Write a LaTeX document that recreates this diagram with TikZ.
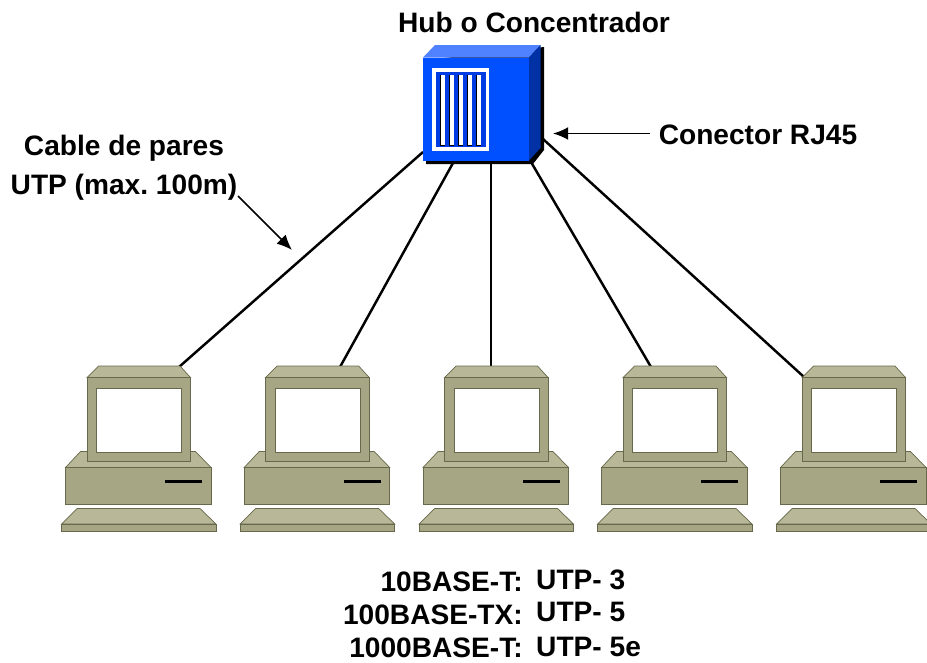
\documentclass[tikz,border=0pt]{standalone}
\usepackage{fontspec}
\setmainfont{Liberation Sans}
\usepackage{xcolor}
\usetikzlibrary{arrows.meta}
\definecolor{HubBlue}{RGB}{0, 80, 255}
\definecolor{HubTop}{RGB}{80, 130, 255}
\definecolor{HubSide}{RGB}{0, 50, 165}
\definecolor{HubDark}{RGB}{0, 60, 225}
\definecolor{PcFront}{RGB}{166, 166, 132}
\definecolor{PcTop}{RGB}{184, 184, 152}
\definecolor{PcEdge}{RGB}{104, 104, 76}
\tikzset{
    label/.style = {inner sep = 0pt, font = \fontsize{24}{28}\selectfont\bfseries\frenchspacing},
    pcface/.style = {fill = PcFront, draw = PcEdge, line width = 0.6pt},
    pctop/.style = {fill = PcTop, draw = PcEdge, line width = 0.6pt},
    cable/.style = {line width = 2.1pt},
    pointer/.style = {line width = 1.4pt, -{Latex[length = 13pt, width = 11pt]}}
}

\begin{document}
\begin{tikzpicture}[x = 0.03cm, y = -0.03cm]
            \useasboundingbox (0, 0) rectangle (927, 662);
            %cables
            \coordinate (hub1) at (423, 152);
            \coordinate (hub2) at (453, 163);
            \coordinate (hub3) at (491, 163);
            \coordinate (hub4) at (531, 162);
            \coordinate (hub5) at (543, 139);
            \coordinate (pc1) at (179, 367);
            \coordinate (pc2) at (340, 367);
            \coordinate (pc3) at (491, 367);
            \coordinate (pc4) at (651, 367);
            \coordinate (pc5) at (804, 377);
            \foreach \n in {1, ..., 5}
                \draw[cable] (hub\n) -- (pc\n);
            %hub
            \fill[black] (426, 60) -- (544, 47) -- (544, 150) -- (533, 164) -- (426, 164) -- cycle;
            \fill[HubTop] (423, 57.5) -- (435, 45) -- (540.5, 45) -- (529, 57.5) -- cycle;
            \fill[HubSide] (529, 57.5) -- (540.5, 45) -- (540.5, 148) -- (529, 160.5) -- cycle;
            \fill[HubBlue] (423, 57.5) rectangle (529, 160.5);
            \fill[white] (432, 68) rectangle (489, 151);
            \fill[HubDark] (436, 72) rectangle (486, 147);
            \foreach \x in {441, 450, 459, 467.5, 476.5} {
                \fill[black] (\x - 0.8, 75) rectangle (\x + 4, 145.5);
                \fill[white] (\x, 75) rectangle (\x + 4, 144.5);
            }
            %computadoras
            \foreach \dx in {0, 178.7, 357.5, 536, 715} {
                \begin{scope}[xshift = \dx * 0.03cm]
                    \filldraw[pctop] (98.5, 366) -- (180, 366) -- (190.5, 377.5) -- (87, 377.5) -- cycle;
                    \filldraw[pctop] (80.5, 451.5) -- (195.5, 451.5) -- (211, 467.5) -- (65.5, 467.5) -- cycle;
                    \filldraw[pcface] (65.5, 467.5) rectangle (211, 504.5);
                    \fill[black] (165, 480) rectangle (202, 482.5);
                    \filldraw[pcface] (87, 377.5) rectangle (190.5, 461.5);
                    \filldraw[fill = white, draw = PcEdge, line width = 0.4pt] (96.5, 388) rectangle (181.5, 452);
                    \filldraw[pctop] (77, 508.5) -- (200, 508.5) -- (216, 524) -- (61.5, 524) -- cycle;
                    \filldraw[pcface] (61.5, 524) rectangle (216, 531.5);
                \end{scope}
            }
            %etiquetas
            \node[label] (title) at (534, 22) {Hub o Concentrador};
            \node[label] (rj45) at (758, 135) {Conector RJ45};
            \node[label] (cable1) at (124, 148) {Cable de pares};
            \node[label] (cable2) at (124, 187) {UTP (max. 100m)};
            \coordinate (rj45tip) at (553, 133.5);
            \coordinate (rj45end) at (650, 133.5);
            \coordinate (utpend) at (238, 196);
            \coordinate (utptip) at (292, 250);
            \draw[pointer] (rj45end) -- (rj45tip);
            \draw[pointer] (utpend) -- (utptip);
            %normas
            \node[label, anchor = east] (std1) at (523, 582) {10BASE-T:};
            \node[label, anchor = east] (std2) at (523, 615) {100BASE-TX:};
            \node[label, anchor = east] (std3) at (523, 647.5) {1000BASE-T:};
            \node[label, anchor = west] (utp1) at (536, 580) {UTP- 3};
            \node[label, anchor = west] (utp2) at (536, 612) {UTP- 5};
            \node[label, anchor = west] (utp3) at (536, 647) {UTP- 5e};
        \end{tikzpicture}
\end{document}
